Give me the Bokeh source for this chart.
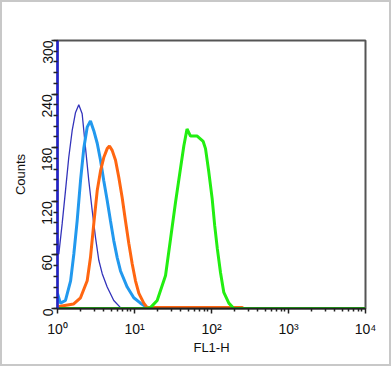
from bokeh.plotting import figure
from bokeh.models import FixedTicker, CustomJSTickFormatter, Range1d
from bokeh.embed import file_html
from bokeh.resources import INLINE
import math

# ---- data (FL1-H value, counts) ----
navy_x = [1.0, 1.0, 1.04, 1.15, 1.27, 1.40, 1.55, 1.71, 1.89, 2.09, 2.31, 2.55, 2.82,
          3.12, 3.44, 3.81, 4.42, 5.38, 6.58, 8.0, 10000]
navy_y = [400, 61, 61, 95, 132, 169, 199, 219, 228, 218, 180, 143, 110,
          79, 54, 39, 24, 9, 1, 0, 0]

lblue_x = [1.0, 1.09, 1.27, 1.48, 1.63, 1.80, 1.99, 2.20, 2.43, 2.68, 2.96, 3.28, 3.62,
           3.99, 4.42, 4.88, 5.38, 5.96, 6.58, 8.04, 9.79, 11.96, 14.6, 18.0, 10000]
lblue_y = [17, 6, 9, 31, 61, 98, 143, 180, 203, 210, 199, 185, 166,
           143, 121, 98, 76, 57, 42, 24, 12, 6, 1, 0, 0]

orange_x = [1.0, 1.61, 1.99, 2.43, 2.68, 2.96, 3.28, 3.62, 3.99, 4.42, 4.73, 5.13, 5.67,
            6.25, 6.92, 7.64, 8.43, 9.33, 10.3, 11.4, 13.2, 14.6, 250, 260, 10000]
orange_y = [2, 5, 12, 31, 57, 95, 132, 154, 169, 179, 182, 177, 166,
            147, 124, 98, 73, 50, 31, 17, 6, 1, 1, 0, 0]

green_x = [1.0, 14.0, 16.1, 19.7, 25.3, 29.4, 34.1, 39.6, 43.7, 48.1, 53.4, 65.2, 78.0,
           83.6, 92.2, 102, 110, 119, 131, 144.5, 168, 195, 10000]
green_y = [0, 0, 1, 9, 37, 78, 119, 157, 182, 201, 193, 193, 187,
           179, 153, 123, 93, 67, 40, 18, 6, 0, 0]

x_major = [1, 10, 100, 1000, 10000]
y_major = [0, 60, 120, 180, 240, 300]

p = figure(width=391, height=366, x_axis_type="log",
           x_range=Range1d(1, 10000), y_range=Range1d(0, 300),
           output_backend="svg", toolbar_location=None,
           min_border_left=55, min_border_right=24, min_border_top=38, min_border_bottom=56)
p.frame_width = 308
p.frame_height = 268
p.grid.visible = False
p.background_fill_color = "white"
p.border_fill_color = "white"
p.outline_line_color = "#555555"
p.outline_line_width = 2

p.line(navy_x, navy_y, line_color="#3333bb", line_width=1.3)
p.line(lblue_x, lblue_y, line_color="#2299ee", line_width=3)
p.line(orange_x, orange_y, line_color="#ff6611", line_width=3)
p.line(green_x, green_y, line_color="#22ee11", line_width=3)

minor_x = [m * 10 ** d for d in range(4) for m in range(2, 10)]
p.xaxis.ticker = FixedTicker(ticks=x_major, minor_ticks=minor_x)
p.xaxis.formatter = CustomJSTickFormatter(code="""
const sup = ['\u2070','\u00b9','\u00b2','\u00b3','\u2074'];
return '10' + sup[Math.round(Math.log10(tick))];
""")
p.yaxis.ticker = FixedTicker(ticks=y_major, minor_ticks=list(range(0, 301, 12)))
p.yaxis.major_label_orientation = math.pi / 2

for ax in (p.xaxis[0], p.yaxis[0]):
    ax.major_label_text_font = "Liberation Sans"
    ax.major_label_text_font_size = "14px"
    ax.major_label_text_color = "#111111"
    ax.axis_label_text_font = "Liberation Sans"
    ax.axis_label_text_font_size = "13px"
    ax.axis_label_text_font_style = "normal"
    ax.axis_label_text_color = "#111111"
    ax.major_tick_line_color = "#222222"
    ax.minor_tick_line_color = "#222222"
    ax.major_tick_line_width = 1.5
    ax.minor_tick_line_width = 1.5
    ax.major_tick_in = 0
    ax.minor_tick_in = 0

p.xaxis.axis_label = "FL1-H"
p.yaxis.axis_label = "Counts"
p.xaxis.axis_line_color = "#222222"
p.xaxis.axis_line_width = 2
p.yaxis.axis_line_color = "#2222cc"
p.yaxis.axis_line_width = 2.5
p.xaxis.major_tick_out = 5
p.xaxis.minor_tick_out = 3
p.yaxis.major_tick_out = 6
p.yaxis.minor_tick_out = 4
p.xaxis.major_label_standoff = 7
p.yaxis.major_label_standoff = 4
p.xaxis.axis_label_standoff = 0
p.yaxis.axis_label_standoff = 7
p.styles = {"border": "2px solid #c8c8c8", "box-sizing": "border-box"}

open("out.html", "w").write(file_html(p, INLINE))
